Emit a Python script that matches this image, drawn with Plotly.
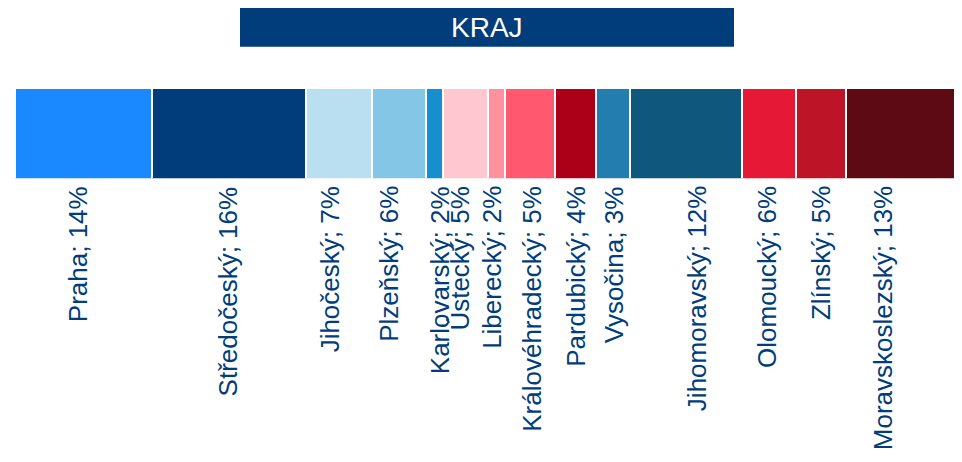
import plotly.graph_objects as go

regions = ["Praha", "Středočeský", "Jihočeský", "Plzeňský", "Karlovarský", "Ústecký",
           "Liberecký", "Královéhradecký", "Pardubický", "Vysočina", "Jihomoravský",
           "Olomoucký", "Zlínský", "Moravskoslezský"]
shares = [14.45, 16.2, 7.0, 5.75, 1.72, 4.8, 1.8, 5.25, 4.37, 3.53, 11.84, 5.74, 5.25, 12.3]
pct_labels = [14, 16, 7, 6, 2, 5, 2, 5, 4, 3, 12, 6, 5, 13]
colors = ["#1a89ff", "#003d7a", "#b9dff1", "#84c6e6", "#168fcf", "#ffc7cf", "#ff909e",
          "#ff586f", "#ab0017", "#247daf", "#10577d", "#e51935", "#bd1428", "#5e0a14"]
title_text = "KRAJ"

# label layout nudges (pixels) relative to segment centre
label_nudge = [-5, 0, -8, -10, 6, -6, -5, 2, 0, 1, 11, -2, 0, -21]

W, H = 962, 462
OX, OY = 8, 8  # page body margin compensation
def px(x):
    return (x - OX) / W
def py(y):
    return 1 - (y - OY) / H

fig = go.Figure()
for name, v, c in zip(regions, shares, colors):
    fig.add_trace(go.Bar(x=[v], y=[title_text], orientation="h", name=name,
                         marker=dict(color=c, line=dict(color="white", width=2)),
                         hoverinfo="name+x"))

total = sum(shares)
cum = 0
annotations = []
for name, v, p, dx in zip(regions, shares, pct_labels, label_nudge):
    center = cum + v / 2
    cum += v
    annotations.append(dict(x=center, xref="x", y=py(184), yref="paper",
                            text=f"{name}; {p}%", textangle=-90, showarrow=False,
                            xanchor="center", yanchor="top", xshift=dx,
                            font=dict(family="Liberation Sans, Arial", size=26, color="#003d7a")))
annotations.append(dict(x=px(487), y=py(27.5), xref="paper", yref="paper", text=title_text,
                        showarrow=False, xanchor="center", yanchor="middle",
                        font=dict(family="Liberation Sans, Arial", size=28, color="white")))

fig.update_layout(
    width=W, height=H, barmode="stack", bargap=0, showlegend=False,
    margin=dict(l=0, r=0, t=0, b=0), paper_bgcolor="white", plot_bgcolor="white",
    xaxis=dict(range=[0, total], domain=[px(14.7), px(962.5)], visible=False, fixedrange=True),
    yaxis=dict(range=[-0.5, 0.5], domain=[py(178.5), py(88)], visible=False, fixedrange=True),
    shapes=[dict(type="rect", xref="paper", yref="paper", x0=px(240), x1=px(734),
                 y0=py(46.7), y1=py(8), fillcolor="#003d7a", line=dict(width=0), layer="below")],
    annotations=annotations,
)
fig.write_html("out.html")
